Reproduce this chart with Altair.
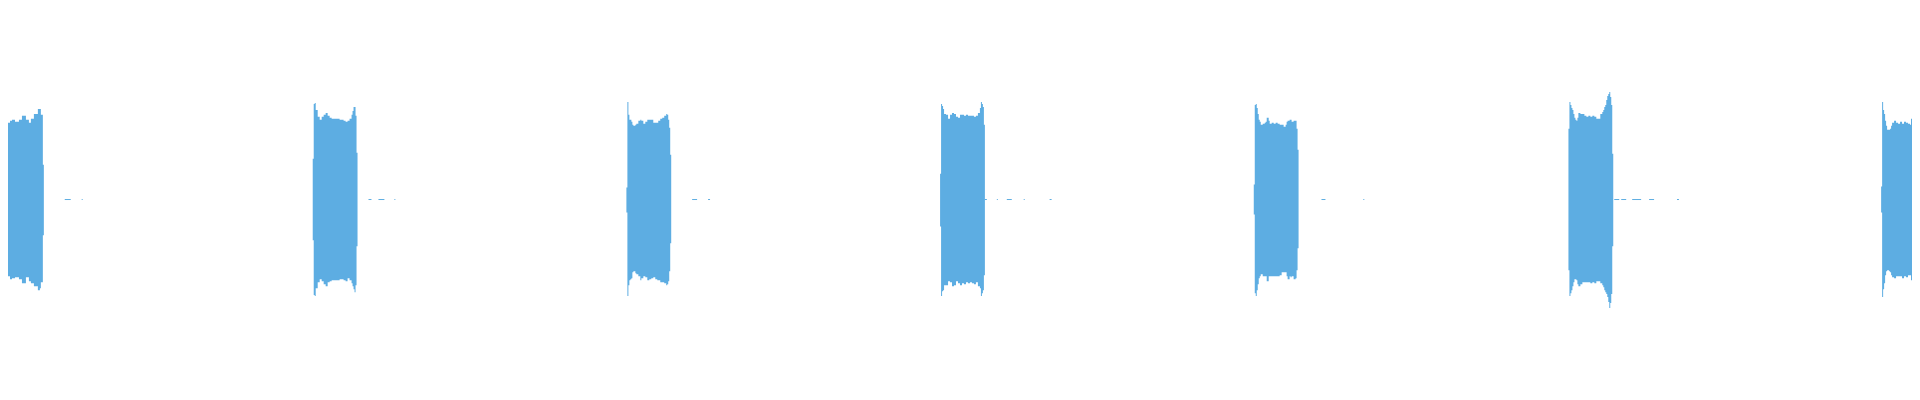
import altair as alt
import pandas as pd

# Burst start times (ms) and length
burst_starts = [-1, 314, 629, 944, 1259, 1575, 1889]
burst_len = 45

# Per-burst envelope: offsets (ms from burst start), upper and lower amplitude
b1_t = [0, 1, 2, 3, 4, 7, 11, 13, 16, 20, 23, 27, 30, 32, 35, 39, 41, 42, 44]
b1_hi = [0.40, 0.96, 0.93, 0.88, 0.80, 0.77, 0.79, 0.80, 0.78, 0.80, 0.84, 0.80, 0.77, 0.81, 0.86, 0.91, 0.91, 0.85, 0.35]
b1_lo = [-0.40, -0.96, -0.92, -0.86, -0.80, -0.77, -0.80, -0.79, -0.78, -0.80, -0.84, -0.78, -0.82, -0.84, -0.87, -0.91, -0.89, -0.83, -0.36]

b2_t = [0, 1, 2, 3, 5, 7, 9, 11, 13, 15, 17, 19, 23, 27, 29, 31, 33, 35, 37, 39, 40, 41, 42, 43, 44]
b2_hi = [0.41, 0.96, 0.97, 0.90, 0.83, 0.80, 0.83, 0.85, 0.87, 0.84, 0.82, 0.81, 0.81, 0.80, 0.80, 0.79, 0.78, 0.79, 0.81, 0.85, 0.89, 0.93, 0.93, 0.84, 0.47]
b2_lo = [-0.41, -0.96, -0.97, -0.89, -0.83, -0.80, -0.82, -0.85, -0.87, -0.83, -0.82, -0.81, -0.81, -0.80, -0.80, -0.81, -0.82, -0.79, -0.81, -0.84, -0.87, -0.90, -0.93, -0.86, -0.47]

b3_t = [0, 1, 2, 3, 4, 5, 6, 7, 9, 10, 12, 14, 15, 17, 19, 21, 23, 25, 27, 29, 31, 32, 34, 36, 38, 40, 41, 42, 43, 44]
b3_hi = [0.12, 0.98, 0.85, 0.80, 0.80, 0.78, 0.75, 0.74, 0.75, 0.76, 0.79, 0.80, 0.79, 0.76, 0.78, 0.80, 0.80, 0.80, 0.77, 0.77, 0.77, 0.79, 0.81, 0.82, 0.84, 0.86, 0.85, 0.80, 0.72, 0.45]
b3_lo = [-0.13, -0.97, -0.86, -0.81, -0.80, -0.79, -0.73, -0.72, -0.74, -0.75, -0.77, -0.81, -0.79, -0.77, -0.78, -0.81, -0.80, -0.79, -0.78, -0.80, -0.81, -0.81, -0.83, -0.83, -0.84, -0.86, -0.85, -0.82, -0.72, -0.44]

b4_t = [0, 1, 2, 3, 4, 6, 8, 10, 12, 14, 16, 18, 20, 22, 24, 26, 28, 30, 32, 34, 36, 38, 40, 41, 42, 43, 44]
b4_hi = [0.26, 0.96, 0.94, 0.91, 0.86, 0.85, 0.81, 0.85, 0.87, 0.86, 0.83, 0.82, 0.85, 0.85, 0.84, 0.85, 0.84, 0.84, 0.84, 0.83, 0.84, 0.87, 0.92, 0.98, 0.96, 0.93, 0.75]
b4_lo = [-0.27, -0.97, -0.92, -0.91, -0.86, -0.86, -0.82, -0.83, -0.87, -0.86, -0.82, -0.84, -0.86, -0.84, -0.85, -0.83, -0.84, -0.83, -0.84, -0.85, -0.83, -0.87, -0.89, -0.97, -0.94, -0.91, -0.76]

b5_t = [0, 1, 2, 3, 4, 5, 6, 7, 9, 11, 12, 13, 14, 15, 16, 18, 20, 22, 24, 26, 28, 30, 32, 33, 34, 36, 37, 38, 40, 42, 43, 44]
b5_hi = [0.15, 0.95, 0.96, 0.92, 0.86, 0.80, 0.78, 0.75, 0.76, 0.77, 0.78, 0.82, 0.82, 0.79, 0.76, 0.77, 0.76, 0.77, 0.76, 0.75, 0.75, 0.73, 0.75, 0.78, 0.79, 0.80, 0.80, 0.78, 0.79, 0.79, 0.71, 0.50]
b5_lo = [-0.15, -0.94, -0.97, -0.91, -0.85, -0.79, -0.77, -0.75, -0.77, -0.77, -0.77, -0.82, -0.82, -0.77, -0.77, -0.77, -0.77, -0.77, -0.77, -0.76, -0.73, -0.73, -0.73, -0.77, -0.80, -0.77, -0.78, -0.77, -0.80, -0.79, -0.71, -0.49]

b6_t = [0, 1, 2, 3, 4, 5, 6, 7, 8, 9, 10, 12, 14, 16, 18, 20, 22, 24, 26, 28, 30, 32, 34, 35, 36, 37, 38, 39, 40, 41, 42, 43, 44]
b6_hi = [0.71, 0.98, 0.95, 0.92, 0.90, 0.86, 0.82, 0.80, 0.79, 0.82, 0.87, 0.86, 0.86, 0.84, 0.83, 0.84, 0.83, 0.84, 0.83, 0.81, 0.81, 0.86, 0.88, 0.90, 0.93, 0.95, 1.00, 1.04, 1.06, 1.08, 1.03, 0.95, 0.46]
b6_lo = [-0.71, -0.97, -0.94, -0.91, -0.87, -0.83, -0.80, -0.80, -0.81, -0.85, -0.87, -0.85, -0.83, -0.83, -0.83, -0.83, -0.84, -0.83, -0.84, -0.82, -0.82, -0.84, -0.86, -0.88, -0.91, -0.93, -0.95, -0.98, -1.03, -1.09, -1.04, -0.95, -0.47]

b7_t = [0, 1, 2, 3, 4, 5, 6, 8, 9, 10, 11, 13, 15, 17, 19, 21, 23, 25, 27, 29, 30]
b7_hi = [0.13, 0.98, 0.90, 0.86, 0.79, 0.74, 0.70, 0.70, 0.71, 0.74, 0.77, 0.79, 0.77, 0.76, 0.78, 0.76, 0.78, 0.77, 0.76, 0.75, 0.81]
b7_lo = [-0.13, -0.98, -0.90, -0.84, -0.76, -0.72, -0.71, -0.72, -0.73, -0.76, -0.78, -0.79, -0.77, -0.77, -0.77, -0.79, -0.77, -0.78, -0.76, -0.76, -0.81]

# Faint residual noise segments near zero (start, end in ms)
noise_start = [65, 82, 370, 380, 396, 695, 711, 989, 1001, 1011, 1028, 1054, 1327, 1369, 1621, 1628, 1639, 1656, 1684]
noise_end = [71, 83, 373, 386, 397, 700, 713, 991, 1002, 1016, 1029, 1056, 1331, 1370, 1626, 1633, 1648, 1661, 1686]

COLOR = "#5DADE2"

offsets = [b1_t, b2_t, b3_t, b4_t, b5_t, b6_t, b7_t]
highs = [b1_hi, b2_hi, b3_hi, b4_hi, b5_hi, b6_hi, b7_hi]
lows = [b1_lo, b2_lo, b3_lo, b4_lo, b5_lo, b6_lo, b7_lo]

rows = []
for i, (start, ts, his, los) in enumerate(zip(burst_starts, offsets, highs, lows)):
    for t, h, l in zip(ts, his, los):
        rows.append({"burst": i, "t": start + t, "hi": h, "lo": l})
    rows.append({"burst": i, "t": start + burst_len, "hi": his[-1], "lo": los[-1]})
wave = pd.DataFrame(rows)

noise = pd.DataFrame({"t0": noise_start, "t1": noise_end, "level": [0.0] * len(noise_start)})

xscale = alt.Scale(domain=[8, 1920], nice=False, zero=False)
yscale = alt.Scale(domain=[-2.005, 1.915], nice=False, zero=False)

area = alt.Chart(wave).mark_area(
    interpolate="step-after", color=COLOR, clip=True, opacity=1
).encode(
    x=alt.X("t:Q", scale=xscale, axis=None),
    y=alt.Y("hi:Q", scale=yscale, axis=None),
    y2="lo:Q",
    detail="burst:N",
)

dashes = alt.Chart(noise).mark_rule(color=COLOR, strokeWidth=1, clip=True).encode(
    x=alt.X("t0:Q", scale=xscale, axis=None),
    x2="t1:Q",
    y=alt.Y("level:Q", scale=yscale, axis=None),
)

chart = alt.layer(area, dashes).properties(
    width=1912, height=392, padding=0, background="white"
).configure_view(stroke=None)

chart.save("out.html", embed_options={"renderer": "svg", "actions": False})
